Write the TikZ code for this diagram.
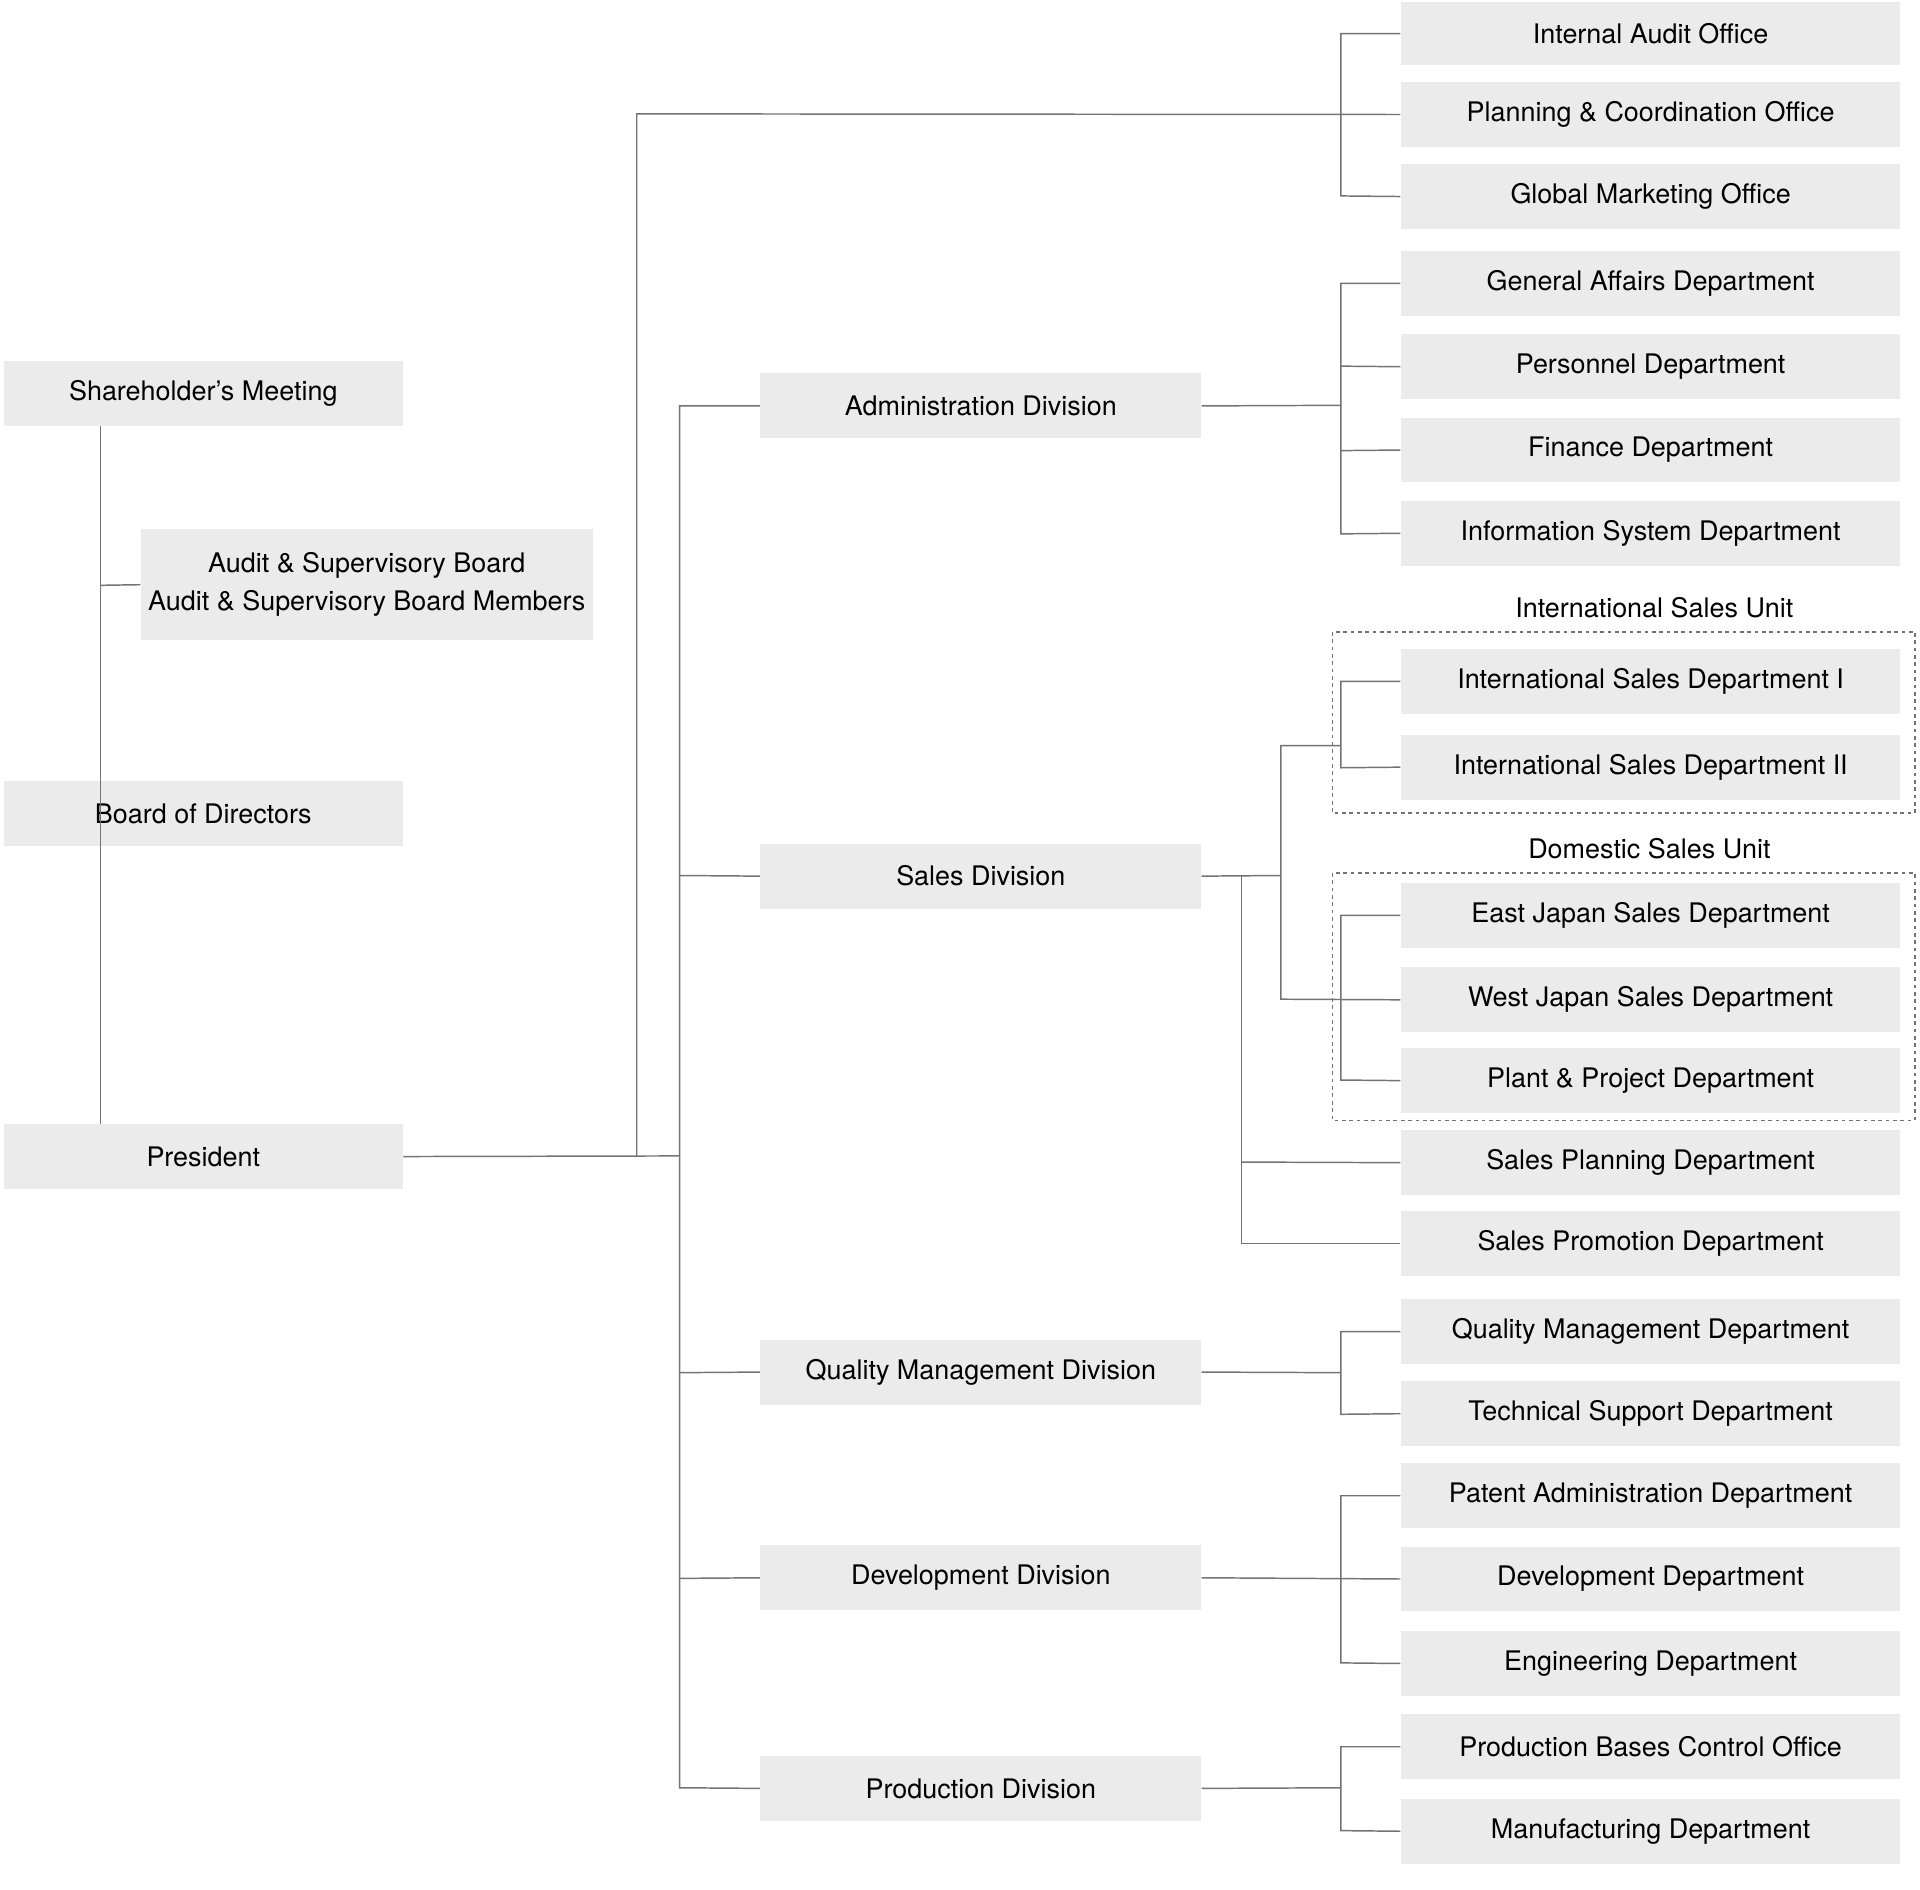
\documentclass[tikz,border=0pt]{standalone}
\usepackage{fontspec}
\setmainfont{TeX Gyre Heros}
\begin{document}
\begin{tikzpicture}[x=0.5pt,y=-0.5pt,
  box/.style={fill=black!8,draw=none,inner sep=0pt,align=center,font=\fontsize{11}{15.5}\selectfont},
  ln/.style={draw=black!55,line width=0.6pt},
  unit/.style={draw=black!55,dashed,line width=0.6pt,dash pattern=on 1.5pt off 1.5pt},
  lbl/.style={font=\fontsize{11}{13}\selectfont}]
\useasboundingbox (0,0) rectangle (1568,1543);
\newcommand\bx[6]{\node[box,minimum width={(#4-#2)*0.5pt},minimum height={(#5-#3)*0.5pt}] (#1) at ({(#2+#4)/2},{(#3+#5)/2}) {#6};}
% left
\bx{sh}{3}{295}{329}{348}{Shareholder's Meeting}
\bx{aud}{115}{432}{484}{523}{Audit \& Supervisory Board\\Audit \& Supervisory Board Members}
\bx{bod}{3}{638}{329}{691}{Board of Directors}
\bx{pres}{3}{918}{329}{971}{President}
% divisions
\bx{adm}{621}{305}{981}{358}{Administration Division}
\bx{sal}{621}{689}{981}{742}{Sales Division}
\bx{qm}{621}{1094}{981}{1147}{Quality Management Division}
\bx{dev}{621}{1262}{981}{1315}{Development Division}
\bx{prd}{621}{1434}{981}{1487}{Production Division}
% right column
\bx{ia}{1144}{2}{1552}{53}{Internal Audit Office}
\bx{pc}{1144}{67}{1552}{120}{Planning \& Coordination Office}
\bx{gm}{1144}{134}{1552}{187}{Global Marketing Office}
\bx{ga}{1144}{205}{1552}{258}{General Affairs Department}
\bx{pe}{1144}{273}{1552}{326}{Personnel Department}
\bx{fi}{1144}{341}{1552}{394}{Finance Department}
\bx{is}{1144}{409}{1552}{462}{Information System Department}
\bx{i1}{1144}{530}{1552}{583}{International Sales Department I}
\bx{i2}{1144}{600}{1552}{653}{International Sales Department II}
\bx{ej}{1144}{721}{1552}{774}{East Japan Sales Department}
\bx{wj}{1144}{790}{1552}{843}{West Japan Sales Department}
\bx{pp}{1144}{856}{1552}{909}{Plant \& Project Department}
\bx{sp}{1144}{923}{1552}{976}{Sales Planning Department}
\bx{spr}{1144}{989}{1552}{1042}{Sales Promotion Department}
\bx{qmd}{1144}{1061}{1552}{1114}{Quality Management Department}
\bx{ts}{1144}{1128}{1552}{1181}{Technical Support Department}
\bx{pa}{1144}{1195}{1552}{1248}{Patent Administration Department}
\bx{dd}{1144}{1263}{1552}{1316}{Development Department}
\bx{en}{1144}{1332}{1552}{1385}{Engineering Department}
\bx{pb}{1144}{1400}{1552}{1453}{Production Bases Control Office}
\bx{mf}{1144}{1469}{1552}{1522}{Manufacturing Department}
% units
\draw[unit] (1088,516) rectangle (1564,664);
\node[lbl] (iul) at (1351,496) {International Sales Unit};
\draw[unit] (1088,713) rectangle (1564,915);
\node[lbl] (dul) at (1347,693) {Domestic Sales Unit};
% left connectors
\draw[ln] (82,348) -- (82,918);
\draw[ln] (82,478) -- (aud.west);
\draw[ln] (pres.east) -- (555,944);
\draw[ln] (520,944) -- (520,93) -- (pc.west);
\draw[ln] (ia.west) -| (1095,160) -- (gm.west);
\draw[ln] (adm.west) -| (555,1460) -- (prd.west);
\draw[ln] (555,715) -- (sal.west);
\draw[ln] (555,1121) -- (qm.west);
\draw[ln] (555,1289) -- (dev.west);
% admin
\draw[ln] (adm.east) -- (1095,331);
\draw[ln] (ga.west) -| (1095,436) -- (is.west);
\draw[ln] (1095,299) -- (pe.west);
\draw[ln] (1095,368) -- (fi.west);
% sales
\draw[ln] (sal.east) -- (1046,715);
\draw[ln] (1095,609) -| (1046,816) -- (wj.west);
\draw[ln] (i1.west) -| (1095,627) -- (i2.west);
\draw[ln] (ej.west) -| (1095,882) -- (pp.west);
\draw[ln] (1014,715) |- (spr.west);
\draw[ln] (1014,949) -- (sp.west);
% quality
\draw[ln] (qm.east) -- (1095,1121);
\draw[ln] (qmd.west) -| (1095,1155) -- (ts.west);
% development
\draw[ln] (dev.east) -- (dd.west);
\draw[ln] (pa.west) -| (1095,1358) -- (en.west);
% production
\draw[ln] (prd.east) -- (1095,1460);
\draw[ln] (pb.west) -| (1095,1495) -- (mf.west);
\end{tikzpicture}
\end{document}
